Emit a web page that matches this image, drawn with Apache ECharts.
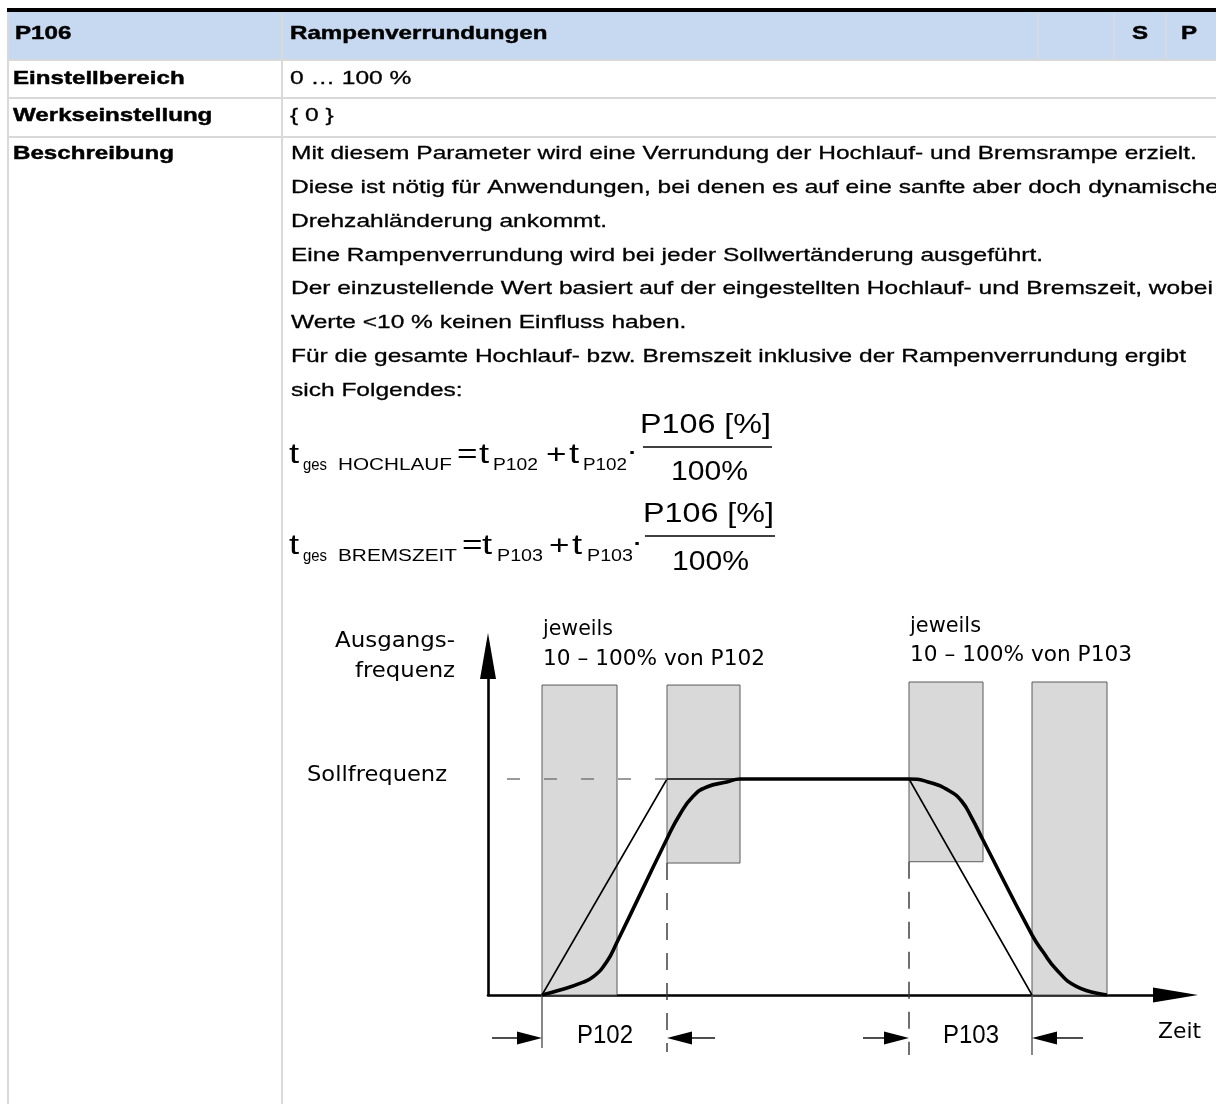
<!DOCTYPE html>
<html><head><meta charset="utf-8">
<script src="https://cdn.jsdelivr.net/npm/echarts@6/dist/echarts.min.js"></script>
<style>html,body{margin:0;padding:0;background:#fff}#c{width:1216px;height:1104px}</style>
</head><body><div id="c"></div><script>
// ---------------- data ----------------
// ramp diagram (x: time units, y: output frequency, setpoint = 100)
const rampX = [4.32, 14.32, 33.68, 43.52];
const rampY = [0, 100, 100, 0];
const roundX = [4.32, 5.76, 7.36, 8.43, 9.5, 10.3, 14.3, 15.36, 16.43, 17.5, 19.1, 20.16, 33.68, 35.36, 36.96, 37.9, 38.7, 39.58, 43.52, 44.4, 45.5, 47.1, 49.52];
const roundY = [0, 2.3, 5.4, 8.5, 15.4, 24.2, 72.1, 83.7, 92.1, 96.3, 98.6, 100, 100, 98.4, 94.3, 89.7, 82.0, 72.0, 27.8, 20.0, 11.6, 3.9, 0];
const setpoint = 100;
const setpointFromX = -0.64, setpointToX = 14.32;
const boxX0 = [4.32, 14.32, 33.68, 43.52];
const boxX1 = [10.32, 20.16, 39.6, 49.52];
const boxY0 = [0, 61.1, 61.7, 0];
const boxY1 = [143.5, 143.5, 144.9, 144.9];
const guideX = [14.32, 33.68, 4.32, 43.52];
const guideYTop = [61.1, 61.7, 0, 0];
const guideYBottom = [-26.4, -27.8, -24.5, -27.8];
const guideDashed = [1, 1, 0, 0];
const arrowTailX = [0.32, 18.16, 30.0, 47.6];
const arrowTipX = [4.32, 14.32, 33.68, 43.52];
const arrowY = -19.9;
const dimLabels = ['P102', 'P103'];
const dimLabelX = [9.36, 38.64];
const dimLabelY = -19.0;

// texts
const headerTexts = ['P106', 'Rampenverrundungen', 'S', 'P'];
const rowLabels = ['Einstellbereich', 'Werkseinstellung', 'Beschreibung'];
const rowValues = ['0 … 100 %', '{ 0 }'];
const descLines = [
  'Mit diesem Parameter wird eine Verrundung der Hochlauf- und Bremsrampe erzielt.',
  'Diese ist nötig für Anwendungen, bei denen es auf eine sanfte aber doch dynamische',
  'Drehzahländerung ankommt.',
  'Eine Rampenverrundung wird bei jeder Sollwertänderung ausgeführt.',
  'Der einzustellende Wert basiert auf der eingestellten Hochlauf- und Bremszeit, wobei',
  'Werte <10 % keinen Einfluss haben.',
  'Für die gesamte Hochlauf- bzw. Bremszeit inklusive der Rampenverrundung ergibt',
  'sich Folgendes:'
];
const formula1 = ['t', 'ges', 'HOCHLAUF', '=', 't', 'P102', '+', 't', 'P102', '·', 'P106 [%]', '100%'];
const formula2 = ['t', 'ges', 'BREMSZEIT', '=', 't', 'P103', '+', 't', 'P103', '·', 'P106 [%]', '100%'];
const yAxisName = ['Ausgangs-', 'frequenz'];
const windowNoteAcc = ['jeweils', '10 – 100% von P102'];
const windowNoteDec = ['jeweils', '10 – 100% von P103'];
const setpointName = 'Sollfrequenz';
const xAxisName = 'Zeit';

// ---------------- layout helpers ----------------
const ARIAL = "'Liberation Sans', Arial, sans-serif";
const VERD = "'DejaVu Sans', Verdana, sans-serif";
const mctx = document.createElement('canvas').getContext('2d');
function fnt(size, bold, fam) { return (bold ? 'bold ' : '') + size + 'px ' + fam; }
function fitSx(text, font, w) { mctx.font = font; return w / mctx.measureText(text).width; }
function T(text, x, y, o) {
  const font = fnt(o.size, o.bold, o.fam || ARIAL);
  const sx = o.w ? fitSx(text, font, o.w) : (o.sx || 1);
  const al = o.align || 'left';
  const st = { text: text, font: font, fill: o.color || '#000', align: al, textAlign: al,
               verticalAlign: 'middle', textVerticalAlign: 'middle' };
  if (o.heavy) { st.stroke = o.color || '#000'; st.lineWidth = o.heavy; }
  return { type: 'text', x: x, y: y, scaleX: sx, silent: true, z: 10, style: st };
}
function R(x, y, w, h, c) {
  return { type: 'rect', silent: true, z: 1, shape: { x: x, y: y, width: w, height: h }, style: { fill: c } };
}

const G = [];
const LINE = '#d9d9d9';
// table
G.push(R(8, 12, 1208, 48, '#c6d9f0'));
G.push(R(7, 8, 1209, 4, '#000'));
G.push(R(8, 59, 1208, 2, LINE));
G.push(R(8, 97, 1208, 2, LINE));
G.push(R(8, 136, 1208, 2, LINE));
G.push(R(7, 12, 2, 1092, LINE));
G.push(R(281, 12, 2, 1092, LINE));
G.push(R(1037, 12, 2, 47, '#d5dbe3'));
G.push(R(1113, 12, 2, 47, '#d5dbe3'));
G.push(R(1165, 12, 2, 47, '#d5dbe3'));

const SXR = 1.29, SXB = 1.27, FS = 19;
const HB = 0.45, HR = 0.3;
G.push(T(headerTexts[0], 15, 34, { size: FS, bold: true, sx: SXB, heavy: HB }));
G.push(T(headerTexts[1], 290, 34, { size: FS, bold: true, sx: SXB, heavy: HB }));
G.push(T(headerTexts[2], 1140, 34, { size: FS, bold: true, sx: SXB, align: 'center', heavy: HB }));
G.push(T(headerTexts[3], 1189, 34, { size: FS, bold: true, sx: SXB, align: 'center', heavy: HB }));
const rowY = [79, 116, 154];
rowLabels.forEach((s, i) => G.push(T(s, 13, rowY[i], { size: FS, bold: true, sx: SXB, heavy: HB })));
rowValues.forEach((s, i) => G.push(T(s, 290, rowY[i], { size: FS, sx: SXR, heavy: HR })));
descLines.forEach((s, i) => G.push(T(s, 291, 154 + i * 33.8, { size: FS, sx: SXR, heavy: HR })));

// formulas: [x, targetWidth|null, size, baseline, align]
function formula(parts, lay, bar) {
  parts.forEach((s, i) => {
    const L = lay[i];
    const size = L[2];
    const mid = L[3] - 0.3465 * size;
    const o = { size: size, align: L[4] || 'left' };
    if (L[1]) o.w = L[1]; else o.sx = 1.3;
    G.push(T(s, L[0], mid, o));
  });
  G.push(R(bar[0], bar[2] - 0.75, bar[1] - bar[0], 1.5, '#000'));
}
formula(formula1, [
  [289, null, 28, 465], [303, 24, 16, 471], [338, 114, 16, 471], [457, null, 27, 465],
  [479, null, 28, 465], [493, 45, 16, 471], [546, null, 27, 465], [569, null, 28, 465],
  [583, 44, 16, 471], [632, null, 28, 462, 'center'], [640, 131, 28, 435], [671, 77, 28, 482]
], [643, 772, 447]);
formula(formula2, [
  [289, null, 28, 556], [303, 24, 16, 562], [338, 119, 16, 562], [462, null, 27, 556],
  [482, null, 28, 556], [497, 46, 16, 562], [549, null, 27, 556], [572, null, 28, 556],
  [587, 46, 16, 562], [637, null, 28, 553, 'center'], [643, 131, 28, 524], [672, 77, 28, 572]
], [645, 775, 536]);

// diagram annotations
const DF = 22;
G.push(T(yAxisName[0], 455, 641.5, { size: DF, fam: VERD, w: 120, align: 'right' }));
G.push(T(yAxisName[1], 455, 671, { size: DF, fam: VERD, w: 100, align: 'right' }));
G.push(T(windowNoteAcc[0], 543, 629, { size: DF, fam: VERD, w: 70 }));
G.push(T(windowNoteAcc[1], 543, 659, { size: DF, fam: VERD, w: 222 }));
G.push(T(windowNoteDec[0], 910, 626.5, { size: DF, fam: VERD, w: 71 }));
G.push(T(windowNoteDec[1], 910, 655.5, { size: DF, fam: VERD, w: 222 }));
G.push(T(setpointName, 307, 775.5, { size: DF, fam: VERD, w: 140 }));
G.push(T(xAxisName, 1158, 1032.5, { size: DF, fam: VERD, w: 43 }));

// ---------------- chart ----------------
const chart = echarts.init(document.getElementById('c'), null, { renderer: 'canvas' });
const PXX = 12.5, PXY = 2.16, X0 = 488, Y0 = 995, XMAX = 55, YMAX = 157;

const guideData = guideX.map((x, i) => [x, guideYTop[i], guideYBottom[i], guideDashed[i]]);
const arrowData = arrowTipX.map((x, i) => [arrowTailX[i], x, arrowY]);
const labelData = dimLabelX.map((x) => [x, dimLabelY]);

chart.setOption({
  backgroundColor: '#fff',
  animation: false,
  graphic: { elements: G },
  grid: { left: X0, top: Y0 - YMAX * PXY, width: XMAX * PXX, height: YMAX * PXY, containLabel: false },
  xAxis: {
    type: 'value', min: 0, max: XMAX,
    axisLine: { show: true, onZero: true, symbol: ['none', 'triangle'], symbolSize: [15, 45],
      lineStyle: { color: '#000', width: 2.6 } },
    axisTick: { show: false }, axisLabel: { show: false }, splitLine: { show: false }
  },
  yAxis: {
    type: 'value', min: 0, max: YMAX,
    axisLine: { show: true, onZero: true, symbol: ['none', 'triangle'], symbolSize: [16, 46],
      lineStyle: { color: '#000', width: 2.6 } },
    axisTick: { show: false }, axisLabel: { show: false }, splitLine: { show: false }
  },
  series: [
    {
      type: 'line', name: 'Rampe', silent: true, z: 3,
      data: rampX.map((x, i) => [x, rampY[i]]),
      symbol: 'none', lineStyle: { color: '#000', width: 1.6 },
      markArea: {
        silent: true,
        itemStyle: { color: '#d9d9d9', borderColor: '#5a5a5a', borderWidth: 1 },
        data: boxX0.map((x, i) => [{ coord: [x, boxY0[i]] }, { coord: [boxX1[i], boxY1[i]] }])
      }
    },
    {
      type: 'line', name: 'Verrundung', silent: true, z: 4,
      data: roundX.map((x, i) => [x, roundY[i]]),
      smooth: 0.5, symbol: 'none', lineStyle: { color: '#000', width: 3.6 }
    },
    {
      type: 'line', name: 'Sollfrequenz', silent: true, z: 3, clip: false,
      data: [[setpointFromX, setpoint], [setpointToX, setpoint]],
      symbol: 'none', lineStyle: { color: '#7a7a7a', width: 1.5, type: [13, 24], dashOffset: 10 }
    },
    {
      type: 'custom', name: 'guides', silent: true, z: 3, clip: false,
      data: guideData,
      encode: { x: 0, y: [1, 2] },
      renderItem: function (p, api) {
        const a = api.coord([api.value(0), api.value(1)]);
        const b = api.coord([api.value(0), api.value(2)]);
        const dashed = api.value(3) === 1;
        return { type: 'line', shape: { x1: a[0], y1: a[1], x2: b[0], y2: b[1] },
          style: { stroke: dashed ? '#333' : '#555', lineWidth: 1.4, lineDash: dashed ? [17, 13] : null } };
      }
    },
    {
      type: 'custom', name: 'dims', silent: true, z: 3, clip: false,
      data: arrowData,
      encode: { x: [0, 1], y: 2 },
      renderItem: function (p, api) {
        const tail = api.coord([api.value(0), api.value(2)]);
        const tip = api.coord([api.value(1), api.value(2)]);
        const d = tip[0] > tail[0] ? 1 : -1;
        const hl = 25, hw = 6.5;
        return { type: 'group', children: [
          { type: 'line', shape: { x1: tail[0], y1: tail[1], x2: tip[0] - d * hl, y2: tip[1] },
            style: { stroke: '#000', lineWidth: 1.4 } },
          { type: 'polygon', shape: { points: [[tip[0], tip[1]], [tip[0] - d * hl, tip[1] - hw], [tip[0] - d * hl, tip[1] + hw]] },
            style: { fill: '#000' } }
        ] };
      }
    },
    {
      type: 'custom', name: 'dimLabels', silent: true, z: 3, clip: false,
      data: labelData,
      encode: { x: 0, y: 1 },
      renderItem: function (p, api) {
        const c = api.coord([api.value(0), api.value(1)]);
        const text = dimLabels[p.dataIndex];
        const font = fnt(26, false, ARIAL);
        return { type: 'text', x: c[0], y: c[1], scaleX: fitSx(text, font, 56),
          style: { text: text, font: font, fill: '#000', align: 'center', textAlign: 'center',
                   verticalAlign: 'middle', textVerticalAlign: 'middle' } };
      }
    }
  ]
});
</script></body></html>
